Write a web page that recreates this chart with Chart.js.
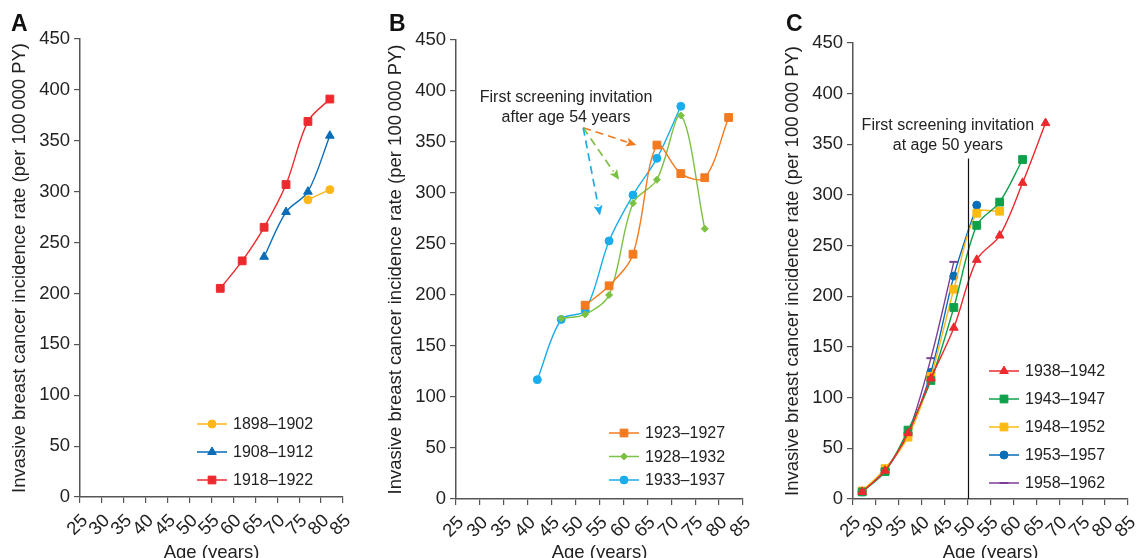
<!DOCTYPE html>
<html><head><meta charset="utf-8">
<script src="https://cdn.jsdelivr.net/npm/chart.js@4.4.1/dist/chart.umd.min.js"></script>
<style>
html,body{margin:0;padding:0;background:#fff;overflow:hidden;width:1136px;height:558px;position:relative;}
canvas{position:absolute;top:0;}
.letter{position:absolute;top:10px;font:bold 23px "Liberation Sans",Arial,sans-serif;color:#111;}
</style></head><body>
<canvas id="cA" width="376" height="564" style="left:0px"></canvas>
<canvas id="cB" width="397" height="564" style="left:376px"></canvas>
<canvas id="cC" width="390" height="564" style="left:773px"></canvas>
<div class="letter" style="left:11px">A</div>
<div class="letter" style="left:389px">B</div>
<div class="letter" style="left:786px">C</div>
<script>
const FONT = '"Liberation Sans", Arial, Helvetica, sans-serif';

// Age-group midpoints (years)
const ages = [27, 32, 37, 42, 47, 52, 57, 62, 67, 72, 77, 82];
const xTickMin = 25, xTickMax = 85, xTickStep = 5;
const yTickMin = 0, yTickMax = 450, yTickStep = 50;

// Panel A: birth cohorts 1898-1922
const labelsA = ['1898\u20131902', '1908\u20131912', '1918\u20131922'];
const c1898 = [null, null, null, null, null, null, null, null, null, null, 292, 302];
const c1908 = [null, null, null, null, null, null, null, null, 236, 280, 300, 355];
const c1918 = [null, null, null, null, null, null, 205, 232, 265, 307, 369, 391];

// Panel B: birth cohorts 1923-1937
const labelsB = ['1923\u20131927', '1928\u20131932', '1933\u20131937'];
const c1923 = [null, null, null, null, null, 190, 209, 240, 347, 319, 315, 374];
const c1928 = [null, null, null, null, 177, 181, 200, 290, 313, 376, 265, null];
const c1933 = [null, null, null, 117, 176, 185, 253, 298, 334, 385, null, null];

// Panel C: birth cohorts 1938-1962
const labelsC = ['1938\u20131942', '1943\u20131947', '1948\u20131952', '1953\u20131957', '1958\u20131962'];
const c1938 = [7, 28, 65, 119, 169, 236, 260, 312, 371, null, null, null];
const c1943 = [7, 27, 68, 117, 189, 270, 293, 335, null, null, null, null];
const c1948 = [8, 30, 61, 121, 207, 282, 284, null, null, null, null, null];
const c1953 = [7, 28, 64, 125, 220, 290, null, null, null, null, null, null];
const c1958 = [7, 29, 65, 139, 234, null, null, null, null, null, null, null];

// Annotations
const annotB = ['First screening invitation', 'after age 54 years'];
const annotBPos = [48.0, 394, 374];           // age, value line1, value line2
const arrowFrom = [51.6, 364];
const arrowTo = [[62.7, 347], [59.1, 313], [55.1, 278]];
const annotC = ['First screening invitation', 'at age 50 years'];
const annotCPos = [45.7, 368, 349];
const screenAgeC = 50, screenLineTop = 336;

function pts(vals) { return ages.map((a, i) => ({x: a, y: vals[i]})); }
function ds(label, vals, color, style, r) {
  return {label, data: pts(vals), borderColor: color, backgroundColor: color,
    pointBackgroundColor: color, pointBorderColor: color, pointStyle: style,
    pointRadius: r, pointHoverRadius: r, pointBorderWidth: style === 'line' ? 2 : 1,
    borderWidth: 1.4, tension: 0.33, spanGaps: false, fill: false};
}

const legendPlugin = {
  id: 'inLegend',
  afterDatasetsDraw(chart, args, opts) {
    const ctx = chart.ctx, ca = chart.chartArea;
    chart.data.datasets.forEach((d, i) => {
      const x = ca.left + opts.x0, y = ca.top + opts.y0 + i * opts.gap;
      ctx.save();
      ctx.strokeStyle = d.borderColor; ctx.lineWidth = 1.5;
      ctx.beginPath(); ctx.moveTo(x, y); ctx.lineTo(x + 30, y); ctx.stroke();
      ctx.fillStyle = d.pointBackgroundColor; ctx.strokeStyle = d.pointBorderColor;
      ctx.lineWidth = d.pointBorderWidth;
      Chart.helpers.drawPoint(ctx, {pointStyle: d.pointStyle, radius: d.pointRadius, rotation: 0, borderWidth: d.pointBorderWidth}, x + 15, y);
      ctx.fillStyle = '#222'; ctx.font = '16px ' + FONT; ctx.textBaseline = 'middle'; ctx.textAlign = 'left';
      ctx.fillText(d.label, x + 36, y + 1);
      ctx.restore();
    });
  }
};

function arrow(ctx, x1, y1, x2, y2, color) {
  const ang = Math.atan2(y2 - y1, x2 - x1), hl = 10, hw = 4.5;
  const bx = x2 - hl * Math.cos(ang), by = y2 - hl * Math.sin(ang);
  ctx.save();
  ctx.strokeStyle = color; ctx.fillStyle = color; ctx.lineWidth = 1.7;
  ctx.setLineDash([8, 5]);
  ctx.beginPath(); ctx.moveTo(x1, y1); ctx.lineTo(bx, by); ctx.stroke();
  ctx.setLineDash([]);
  ctx.beginPath(); ctx.moveTo(x2, y2);
  ctx.lineTo(bx - hw * Math.sin(ang), by + hw * Math.cos(ang));
  ctx.lineTo(bx + 2 * Math.cos(ang), by + 2 * Math.sin(ang));
  ctx.lineTo(bx + hw * Math.sin(ang), by - hw * Math.cos(ang));
  ctx.closePath(); ctx.fill();
  ctx.restore();
}

const annotPluginB = {
  id: 'annotB',
  afterDatasetsDraw(chart) {
    const ctx = chart.ctx, xs = chart.scales.x, ys = chart.scales.y;
    ctx.save();
    ctx.fillStyle = '#222'; ctx.font = '16px ' + FONT; ctx.textAlign = 'center'; ctx.textBaseline = 'middle';
    ctx.fillText(annotB[0], xs.getPixelForValue(annotBPos[0]), ys.getPixelForValue(annotBPos[1]));
    ctx.fillText(annotB[1], xs.getPixelForValue(annotBPos[0]), ys.getPixelForValue(annotBPos[2]));
    ctx.restore();
    const cols = chart.data.datasets.map(d => d.borderColor);
    const fx = xs.getPixelForValue(arrowFrom[0]), fy = ys.getPixelForValue(arrowFrom[1]);
    arrowTo.forEach((t, i) => arrow(ctx, fx, fy, xs.getPixelForValue(t[0]), ys.getPixelForValue(t[1]), cols[i]));
  }
};

const annotPluginC = {
  id: 'annotC',
  afterDatasetsDraw(chart) {
    const ctx = chart.ctx, xs = chart.scales.x, ys = chart.scales.y;
    const lx = Math.round(xs.getPixelForValue(screenAgeC)) + 0.5;
    ctx.save();
    ctx.strokeStyle = '#111'; ctx.lineWidth = 1.2;
    ctx.beginPath(); ctx.moveTo(lx, ys.getPixelForValue(0)); ctx.lineTo(lx, ys.getPixelForValue(screenLineTop)); ctx.stroke();
    ctx.fillStyle = '#222'; ctx.font = '16px ' + FONT; ctx.textAlign = 'center'; ctx.textBaseline = 'middle';
    ctx.fillText(annotC[0], xs.getPixelForValue(annotCPos[0]), ys.getPixelForValue(annotCPos[1]));
    ctx.fillText(annotC[1], xs.getPixelForValue(annotCPos[0]), ys.getPixelForValue(annotCPos[2]));
    ctx.restore();
  }
};

function scales(H, bottom) {
  return {
    x: {type: 'linear', min: xTickMin, max: xTickMax,
      ticks: {stepSize: xTickStep, minRotation: 45, maxRotation: 45, autoSkip: false, padding: 7, labelOffset: 5,
        font: {size: 18.5, family: FONT}, color: '#222'},
      grid: {drawOnChartArea: false, drawTicks: true, tickLength: 6, color: '#555', lineWidth: 1.2},
      border: {display: true, color: '#555', width: 1.5},
      title: {display: true, text: 'Age (years)', font: {size: 18.5, family: FONT}, color: '#222', padding: {top: 0, bottom: 0}},
      afterFit: s => { s.height = H - bottom; }},
    y: {type: 'linear', min: yTickMin, max: yTickMax,
      ticks: {stepSize: yTickStep, padding: 4, font: {size: 18.5, family: FONT}, color: '#222'},
      grid: {drawOnChartArea: false, drawTicks: true, tickLength: 6, color: '#555', lineWidth: 1.2},
      border: {display: true, color: '#555', width: 1.5},
      title: {display: true, text: 'Invasive breast cancer incidence rate (per 100\u2009000 PY)', font: {size: 18.5, family: FONT}, color: '#222', padding: {top: 2, bottom: 0}},
      afterFit: s => { s.width = 73; }}
  };
}

function make(id, datasets, top, bottom, right, legend, extra) {
  const H = 564;
  return new Chart(document.getElementById(id), {
    type: 'line',
    data: {datasets},
    options: {
      responsive: false, animation: false, devicePixelRatio: 1,
      layout: {padding: {left: 7, right, top, bottom: 0}},
      plugins: {legend: {display: false}, tooltip: {enabled: false}, inLegend: legend},
      scales: scales(H, bottom)
    },
    plugins: [legendPlugin].concat(extra)
  });
}

make('cA', [
  ds(labelsA[0], c1898, '#FDB71A', 'circle', 4),
  ds(labelsA[1], c1908, '#0A6DB8', 'triangle', 5),
  ds(labelsA[2], c1918, '#EC2A2E', 'rect', 5.5)
], 39, 497, 33, {x0: 117, y0: 385, gap: 28}, []);

make('cB', [
  ds(labelsB[0], c1923, '#F47A20', 'rect', 5.5),
  ds(labelsB[1], c1928, '#7CC143', 'rectRot', 3.5),
  ds(labelsB[2], c1933, '#1BADEB', 'circle', 4)
], 40, 499, 30, {x0: 153, y0: 393, gap: 23.5}, [annotPluginB]);

make('cC', [
  ds(labelsC[0], c1938, '#EC2A2E', 'triangle', 5),
  ds(labelsC[1], c1943, '#0FA14A', 'rect', 5.5),
  ds(labelsC[2], c1948, '#FDBA12', 'rect', 5.5),
  ds(labelsC[3], c1953, '#0A6DB8', 'circle', 4),
  ds(labelsC[4], c1958, '#7A3E97', 'line', 4.5)
], 43, 499, 35, {x0: 136, y0: 328, gap: 28}, [annotPluginC]);
</script>
</body></html>
